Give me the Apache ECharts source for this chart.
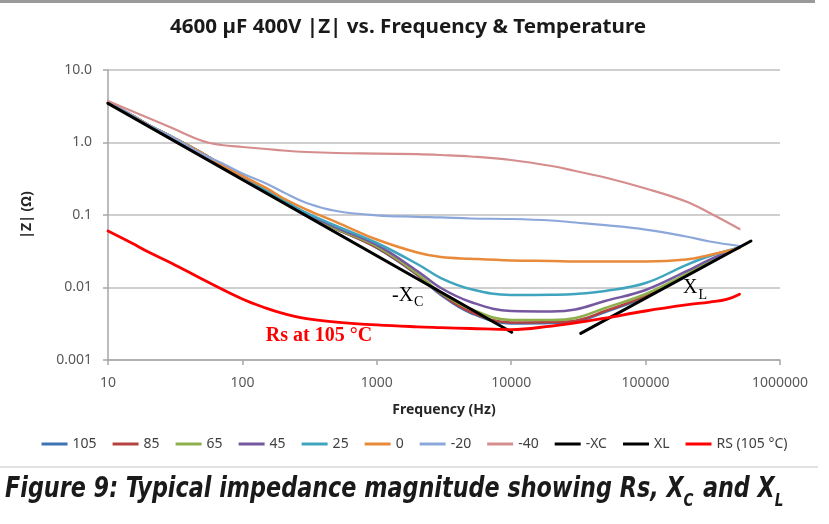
<!DOCTYPE html>
<html><head><meta charset="utf-8">
<script src="https://cdn.jsdelivr.net/npm/echarts@6/dist/echarts.min.js"></script>
<style>html,body{margin:0;padding:0;background:#fff}#c{width:829px;height:524px}</style>
</head><body><div id="c"></div>
<script>
// ---- data ----
const freq = [10, 15, 20, 30, 50, 70, 100, 150, 200, 300, 500, 1000, 2000, 3000, 5000, 10000, 20000, 30000, 50000, 100000, 200000, 300000, 500000];
const z105 = [3.56, 2.39, 1.743, 1.19, 0.716, 0.49, 0.345, 0.221, 0.161, 0.100, 0.0641, 0.0351, 0.0149, 0.0079, 0.00445, 0.00319, 0.00324, 0.00338, 0.00459, 0.0074, 0.01465, 0.0222, 0.0362];
const z85  = [3.56, 2.39, 1.743, 1.19, 0.716, 0.49, 0.345, 0.221, 0.161, 0.100, 0.0641, 0.0356, 0.0151, 0.00818, 0.00459, 0.00329, 0.00334, 0.00349, 0.00474, 0.00764, 0.0149, 0.0225, 0.0362];
const z65  = [3.56, 2.39, 1.743, 1.19, 0.716, 0.49, 0.345, 0.221, 0.161, 0.100, 0.0645, 0.0368, 0.0156, 0.00841, 0.00505, 0.00356, 0.00356, 0.00379, 0.00521, 0.00813, 0.01535, 0.0232, 0.0362];
const z45  = [3.56, 2.39, 1.743, 1.19, 0.716, 0.49, 0.345, 0.221, 0.161, 0.1035, 0.0672, 0.0386, 0.0169, 0.00983, 0.00631, 0.00474, 0.00467, 0.00497, 0.00651, 0.00924, 0.01663, 0.0242, 0.0356];
const z25  = [3.56, 2.39, 1.743, 1.19, 0.716, 0.49, 0.345, 0.221, 0.161, 0.1066, 0.0705, 0.0411, 0.0211, 0.0135, 0.0095, 0.00788, 0.00794, 0.00813, 0.00895, 0.01153, 0.0204, 0.0272, 0.0356];
const z0   = [3.56, 2.39, 1.743, 1.19, 0.716, 0.49, 0.347, 0.236, 0.1716, 0.119, 0.080, 0.0459, 0.0304, 0.0263, 0.0249, 0.0236, 0.0232, 0.0228, 0.0228, 0.0228, 0.0243, 0.0281, 0.0351];
const zm20 = [3.56, 2.39, 1.743, 1.19, 0.694, 0.52, 0.3735, 0.272, 0.2076, 0.1465, 0.1135, 0.0991, 0.0944, 0.0927, 0.0895, 0.0881, 0.0840, 0.0788, 0.0725, 0.063, 0.0505, 0.0431, 0.0374];
const zm40 = [3.74, 2.72, 2.18, 1.585, 1.06, 0.924, 0.867, 0.814, 0.776, 0.74, 0.716, 0.703, 0.690, 0.672, 0.641, 0.574, 0.474, 0.404, 0.329, 0.232, 0.1535, 0.1066, 0.0641];
const freqXC = [10, 10085];
const zXC = [3.47, 0.00241];
const freqXL = [32900, 608000];
const zXL = [0.00233, 0.0438];
const freqRs = [10, 15, 20, 30, 50, 100, 150, 200, 300, 500, 1000, 2000, 3000, 5000, 10000, 20000, 30000, 50000, 100000, 200000, 300000, 400000, 500000];
const zRs = [0.0601, 0.0411, 0.0309, 0.0215, 0.0131, 0.00694, 0.0052, 0.0044, 0.00371, 0.00334, 0.00305, 0.00287, 0.0028, 0.00272, 0.00263, 0.00294, 0.00324, 0.00379, 0.00474, 0.00574, 0.0063, 0.00685, 0.0081];
const seriesNames = ['105', '85', '65', '45', '25', '0', '-20', '-40', '-XC', 'XL', 'RS (105 °C)'];
const xTickLabels = ['10', '100', '1000', '10000', '100000', '1000000'];
const yTickLabels = ['0.001', '0.01', '0.1', '1.0', '10.0'];
const titleText = '4600 µF 400V |Z| vs. Frequency & Temperature';
const xName = 'Frequency (Hz)';
const yName = '|Z| (Ω)';

// ---- styles ----
const colors = ['#3E73B5', '#B5423F', '#8DB04C', '#7558A0', '#3FA5BE', '#E98A3A', '#8CA8DA', '#D58E8D', '#000000', '#000000', '#FF0000'];
const widths = [2.5, 2.5, 2.5, 2.5, 2.5, 2.5, 2.2, 2.2, 3, 3, 2.8];

function zip(xs, ys) { return xs.map((x, i) => [x, ys[i]]); }
const dataSets = [
  zip(freq, z105), zip(freq, z85), zip(freq, z65), zip(freq, z45), zip(freq, z25),
  zip(freq, z0), zip(freq, zm20), zip(freq, zm40), zip(freqXC, zXC), zip(freqXL, zXL), zip(freqRs, zRs)
];

const chart = echarts.init(document.getElementById('c'), null, { renderer: 'canvas' });
const lblFont = 'Noto Sans';
chart.setOption({
  animation: false,
  backgroundColor: '#ffffff',
  grid: { left: 108, right: 49, top: 70, bottom: 164, containLabel: false },
  legend: {
    data: seriesNames.map((n, i) => ({ name: n, icon: 'rect', itemStyle: { color: colors[i] } })),
    top: 432, left: 'center', itemWidth: 26, itemHeight: 3, itemGap: 16,
    textStyle: { fontSize: 14, color: '#404040', fontFamily: lblFont }
  },
  xAxis: {
    type: 'log', logBase: 10, min: 10, max: 1000000,
    name: xName, nameLocation: 'middle', nameGap: 43,
    nameTextStyle: { fontSize: 14, fontWeight: 'bold', color: '#262626', fontFamily: lblFont },
    axisLine: { show: true, lineStyle: { color: '#A6A6A6', width: 1.5 } },
    axisTick: { show: true, length: 5, lineStyle: { color: '#A6A6A6', width: 1.5 } },
    splitLine: { show: false },
    axisLabel: {
      margin: 16, fontSize: 14, color: '#595959', fontFamily: lblFont,
      formatter: v => xTickLabels[Math.round(Math.log10(v)) - 1]
    }
  },
  yAxis: {
    type: 'log', logBase: 10, min: 0.001, max: 10,
    name: yName, nameLocation: 'middle', nameGap: 74, nameRotate: 90,
    nameTextStyle: { fontSize: 14, fontWeight: 'bold', color: '#262626', fontFamily: lblFont },
    axisLine: { show: true, lineStyle: { color: '#A6A6A6', width: 1.5 } },
    axisTick: { show: true, length: 5, lineStyle: { color: '#A6A6A6', width: 1.5 } },
    splitLine: { show: true, lineStyle: { color: '#BFBFBF', width: 1.5 } },
    axisLabel: {
      margin: 16, fontSize: 14, color: '#595959', fontFamily: lblFont,
      formatter: v => yTickLabels[Math.round(Math.log10(v)) + 3]
    }
  },
  series: seriesNames.map((n, i) => ({
    name: n, type: 'line', data: dataSets[i], showSymbol: false, symbol: 'none',
    smooth: i >= 8 && i <= 9 ? false : 0.4,
    color: colors[i],
    lineStyle: { color: colors[i], width: widths[i], join: 'round', cap: 'round' },
    z: 2 + i
  }))
});

// ---- annotations & captions ----
const ctx = document.createElement('canvas').getContext('2d');
function tw(text, font) { ctx.font = font; return ctx.measureText(text).width; }
const serif = '"Liberation Serif", "DejaVu Serif", serif';
const g = [];
// top border and separator
g.push({ type: 'rect', shape: { x: 0, y: 0, width: 815, height: 3 }, style: { fill: '#9A9A9A' }, silent: true });
g.push({ type: 'line', shape: { x1: 0, y1: 467, x2: 818, y2: 467 }, style: { stroke: '#D9D9D9', lineWidth: 1.5 }, silent: true });
// title (narrowed to match original width)
const titleFont = 'bold 19px "Noto Sans"';
const titleScale = 476 / tw(titleText, titleFont);
g.push({ type: 'text', x: 408, y: 28, scaleX: titleScale, style: { text: titleText, font: titleFont, fill: '#1a1a1a', textAlign: 'center', textVerticalAlign: 'middle' } });

// -Xc
const pXC = chart.convertToPixel({ gridIndex: 0 }, [1297, 0.00763]);
const fMain = '20px ' + serif, fSub = '14px ' + serif;
g.push({ type: 'text', x: pXC[0], y: pXC[1], style: { text: '-X', font: fMain, fill: '#000', textAlign: 'left', textVerticalAlign: 'middle' } });
g.push({ type: 'text', x: pXC[0] + tw('-X', fMain) + 1, y: pXC[1] + 6, style: { text: 'C', font: fSub, fill: '#000', textAlign: 'left', textVerticalAlign: 'middle' } });
// XL
const pXL = chart.convertToPixel({ gridIndex: 0 }, [189700, 0.00984]);
g.push({ type: 'text', x: pXL[0], y: pXL[1], style: { text: 'X', font: fMain, fill: '#000', textAlign: 'left', textVerticalAlign: 'middle' } });
g.push({ type: 'text', x: pXL[0] + tw('X', fMain) + 1, y: pXL[1] + 7, style: { text: 'L', font: fSub, fill: '#000', textAlign: 'left', textVerticalAlign: 'middle' } });
// Rs label
const pRs = chart.convertToPixel({ gridIndex: 0 }, [371, 0.00214]);
g.push({ type: 'text', x: pRs[0], y: pRs[1], style: { text: 'Rs at 105 °C', font: 'bold 20px ' + serif, fill: '#FF0000', textAlign: 'center', textVerticalAlign: 'middle' } });

// caption (condensed by horizontal scaling)
const capFam = '"DejaVu Sans", "Liberation Sans", sans-serif';
const capParts = ['Figure 9: Typical impedance magnitude showing Rs, X', 'C', ' and X', 'L'];
const capSize = 28, subSize = 17;
const capMain = 'italic bold ' + capSize + 'px ' + capFam;
const capSub = 'italic bold ' + subSize + 'px ' + capFam;
const kids = [];
let cx = 0; const cy = 504;
capParts.forEach((t, i) => {
  const sub = i % 2 === 1;
  const f = sub ? capSub : capMain;
  kids.push({ type: 'text', x: cx, y: sub ? cy + 6 : cy, style: { text: t, font: f, fill: '#1a1a1a', textAlign: 'left', textVerticalAlign: 'bottom' } });
  cx += tw(t, f) + (sub ? 2 : 0);
});
g.push({ type: 'group', x: 5, y: 0, scaleX: 780 / cx, children: kids });
chart.setOption({ graphic: g });
</script>
</body></html>
